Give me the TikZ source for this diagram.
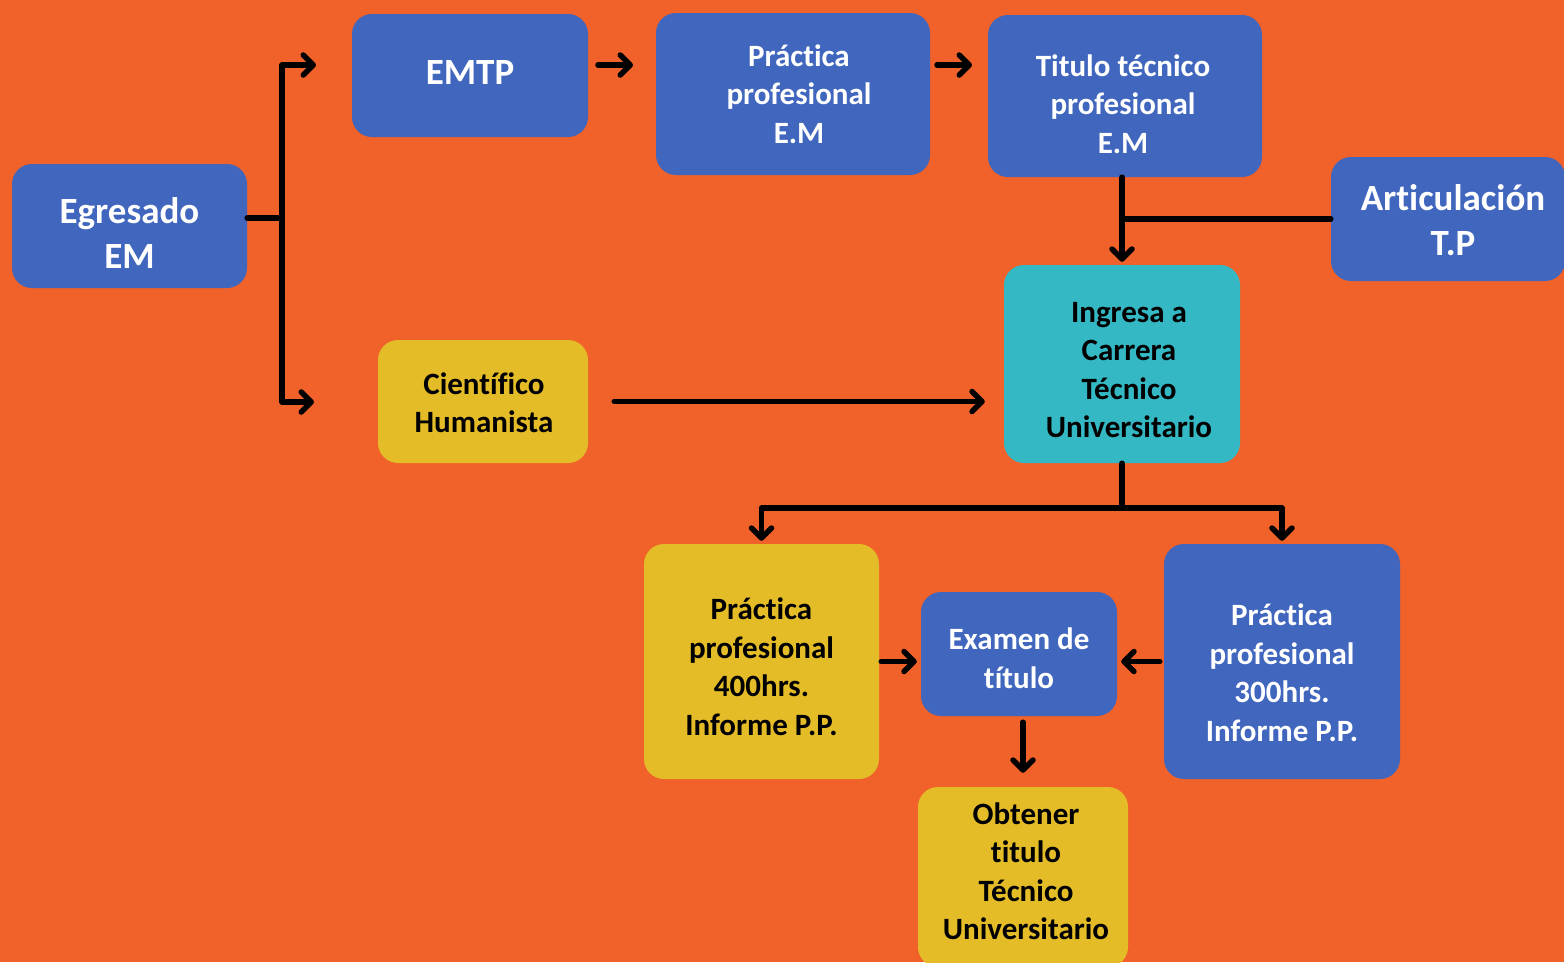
\documentclass[tikz,border=0pt]{standalone}
\usepackage{fontspec}
\setmainfont{Carlito}[Ligatures=NoCommon]
\usetikzlibrary{arrows.meta,calc}
\definecolor{bgorange}{HTML}{F0622A}
\definecolor{bxblue}{HTML}{4066BE}
\definecolor{bxyellow}{HTML}{E4BC27}
\definecolor{bxteal}{HTML}{33B8C4}
\tikzset{
  box/.style={rounded corners=20pt, inner sep=0pt, draw=none},
  bluebox/.style={box, fill=bxblue},
  yellowbox/.style={box, fill=bxyellow},
  tealbox/.style={box, fill=bxteal},
  txt/.style={inner sep=0pt, align=center, font=\fontsize{31}{38.5}\selectfont\bfseries},
  bigtxt/.style={inner sep=0pt, align=center, font=\fontsize{37}{44.5}\selectfont\bfseries},
  wtxt/.style={txt, text=white},
  wbigtxt/.style={bigtxt, text=white},
  btxt/.style={txt, text=black},
  conn/.style={line width=5.5pt, black, line join=round, line cap=round},
  arr/.style={conn, -{Straight Barb[length=10pt,width=20pt,round]}}
}
\begin{document}
\begin{tikzpicture}[x=1pt,y=-1pt]
\useasboundingbox (0,0) rectangle (1564,962);
\fill[bgorange] (0,0) rectangle (1564,962);
\begin{scope}
\clip (0,0) rectangle (1564,962);
% boxes
\node[bluebox, minimum width=235pt, minimum height=124pt] (egr) at (129.5,226) {};
\node[bluebox, minimum width=236pt, minimum height=123pt] (emtp) at (470,75.5) {};
\node[bluebox, minimum width=274pt, minimum height=162pt] (pract1) at (793,94) {};
\node[bluebox, minimum width=274pt, minimum height=162pt] (titulo) at (1125,96) {};
\node[bluebox, minimum width=234pt, minimum height=124pt] (artic) at (1448,219) {};
\node[yellowbox, minimum width=210pt, minimum height=123pt] (cient) at (483,401.5) {};
\node[tealbox, minimum width=236pt, minimum height=198pt] (ingresa) at (1122,364) {};
\node[yellowbox, minimum width=235pt, minimum height=235pt] (p400) at (761.5,661.5) {};
\node[bluebox, minimum width=196pt, minimum height=124pt] (exam) at (1019,654) {};
\node[bluebox, minimum width=236pt, minimum height=235pt] (p300) at (1282,661.5) {};
\node[yellowbox, minimum width=210pt, minimum height=180pt] (obt) at (1023,877) {};
\end{scope}
% texts
\node[wbigtxt] (egrT) at (129.5,233) {Egresado\\EM};
\node[wbigtxt] (emtpT) at (470,72) {EMTP};
\node[wtxt] (pract1T) at (799,94) {Práctica\\profesional\\E.M};
\node[wtxt] (tituloT) at (1123,104) {Titulo técnico\\profesional\\E.M};
\node[wbigtxt] (articT) at (1453,220) {Articulación\\T.P};
\node[btxt] (cientT) at (484,402.5) {Científico\\Humanista};
\node[btxt] (ingresaT) at (1129,370) {Ingresa a\\Carrera\\Técnico\\Universitario};
\node[btxt] (p400T) at (761.5,666.5) {Práctica\\profesional\\400hrs.\\Informe P.P.};
\node[wtxt] (examT) at (1019,658) {Examen de\\título};
\node[wtxt] (p300T) at (1282,672.5) {Práctica\\profesional\\300hrs.\\Informe P.P.};
\node[btxt] (obtT) at (1026,871) {Obtener\\titulo\\Técnico\\Universitario};
% connectors
\coordinate (j1) at (282,218);
\coordinate (t1) at (282,65);
\coordinate (t2) at (282,402);
\coordinate (a1) at (316,65);
\coordinate (a2) at (314,402);
\draw[conn] (egr.east |- j1) -- (j1);
\draw[arr] (j1) -- (t1) -- (a1);
\draw[arr] (j1) -- (t2) -- (a2);
\coordinate (e1) at (598,65);
\coordinate (e2) at (633,65);
\draw[arr] (e1) -- (e2);
\coordinate (e3) at (937,65);
\coordinate (e4) at (972,65);
\draw[arr] (e3) -- (e4);
\draw[arr, shorten >=3pt] (titulo.south -| ingresa.north) -- (ingresa.north);
\draw[conn] (artic.west) -- (artic.west -| ingresa.north);
\draw[arr, shorten <=26pt, shorten >=19pt] (cient.east) -- (cient.east -| ingresa.west);
\coordinate (b1) at (1122,508);
\draw[conn] (ingresa.south) -- (b1);
\draw[arr, shorten >=3pt] (b1) -| (p400.north);
\draw[arr, shorten >=3pt] (b1) -| (p300.north);
\draw[arr, shorten <=2pt, shorten >=4pt] (p400.east) -- (p400.east -| exam.west);
\draw[arr, shorten <=4pt, shorten >=4pt] (p300.west) -- (p300.west -| exam.east);
\draw[arr, shorten <=6pt, shorten >=14pt] (exam.south -| obt.north) -- (obt.north);
\end{tikzpicture}
\end{document}
